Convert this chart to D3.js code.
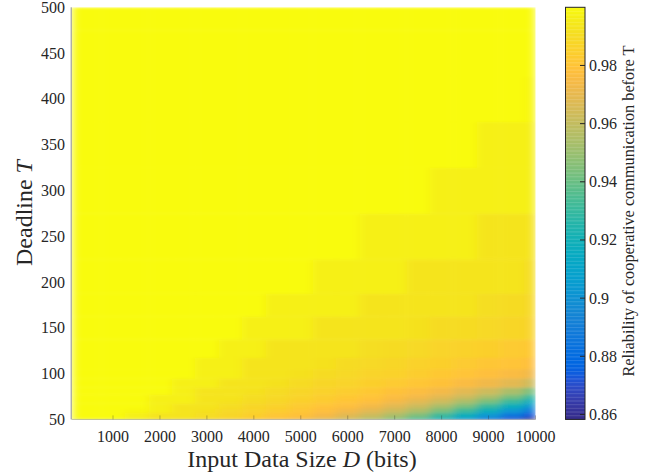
<!DOCTYPE html>
<html><head><meta charset="utf-8">
<script src="https://cdn.jsdelivr.net/npm/d3@7"></script>
<style>
body{margin:0;background:#fff}
svg{display:block}
text{font-family:"Liberation Serif","DejaVu Serif",serif;fill:#262626}
</style>
</head><body><svg id="c" width="655" height="476"></svg>
<script>
// ---- data ----
const D_VALUES = [500,1000,1500,2000,2500,3000,3500,4000,4500,5000,5500,6000,6500,7000,7500,8000,8500,9000,9500,10000];
const T_VALUES = [50,55,60,65,70,75,80,90,100,110,125,150,175,200,250,300,350,400,450,500];
const X_TICKS = [1000,2000,3000,4000,5000,6000,7000,8000,9000,10000];
const Y_TICKS = [50,100,150,200,250,300,350,400,450,500];
const C_TICKS = [0.86,0.88,0.9,0.92,0.94,0.96,0.98];
const C_RANGE = [0.8583,1.0];

const R_T50  = [1,1,0.997,0.993,0.992,0.989,0.986,0.982,0.979,0.975,0.969,0.963,0.955,0.945,0.933,0.920,0.905,0.886,0.872,0.860];
const R_T55  = [1,1,0.997,0.993,0.993,0.991,0.988,0.985,0.981,0.979,0.975,0.969,0.963,0.955,0.945,0.932,0.919,0.904,0.887,0.873];
const R_T60  = [1,1,0.999,0.997,0.993,0.992,0.989,0.987,0.984,0.981,0.978,0.974,0.969,0.963,0.955,0.944,0.932,0.919,0.903,0.887];
const R_T65  = [1,1,1,0.997,0.993,0.993,0.991,0.988,0.986,0.983,0.980,0.978,0.974,0.969,0.963,0.954,0.944,0.931,0.918,0.902];
const R_T70  = [1,1,1,0.997,0.997,0.993,0.992,0.990,0.988,0.985,0.983,0.980,0.978,0.974,0.969,0.963,0.954,0.943,0.931,0.917];
const R_T75  = [1,1,1,0.997,0.997,0.993,0.993,0.991,0.989,0.987,0.984,0.982,0.980,0.977,0.974,0.969,0.963,0.954,0.943,0.930];
const R_T80  = [1,1,1,1,0.997,0.993,0.993,0.992,0.990,0.988,0.986,0.984,0.982,0.979,0.977,0.974,0.969,0.963,0.954,0.943];
const R_T90  = [1,1,1,1,0.997,0.997,0.993,0.993,0.992,0.990,0.988,0.987,0.985,0.983,0.981,0.979,0.976,0.973,0.969,0.963];
const R_T100 = [1,1,1,1,1,0.997,0.997,0.993,0.993,0.992,0.990,0.989,0.987,0.986,0.984,0.982,0.980,0.978,0.976,0.973];
const R_T110 = [1,1,1,1,1,0.997,0.997,0.993,0.993,0.993,0.992,0.990,0.989,0.988,0.986,0.985,0.983,0.981,0.980,0.978];
const R_T125 = [1,1,1,1,1,1,0.997,0.997,0.993,0.993,0.993,0.993,0.991,0.990,0.989,0.987,0.986,0.985,0.983,0.982];
const R_T150 = [1,1,1,1,1,1,1,0.997,0.997,0.997,0.993,0.993,0.993,0.993,0.992,0.990,0.990,0.989,0.988,0.987];
const R_T175 = [1,1,1,1,1,1,1,1,0.997,0.997,0.997,0.997,0.993,0.993,0.993,0.993,0.993,0.991,0.990,0.989];
const R_T200 = [1,1,1,1,1,1,1,1,1,1,0.997,0.997,0.997,0.997,0.993,0.993,0.993,0.993,0.993,0.991];
const R_T250 = [1,1,1,1,1,1,1,1,1,1,1,1,0.997,0.997,0.997,0.997,0.997,0.993,0.993,0.993];
const R_T300 = [1,1,1,1,1,1,1,1,1,1,1,1,1,1,1,0.997,0.997,0.997,0.997,0.997];
const R_T350 = [1,1,1,1,1,1,1,1,1,1,1,1,1,1,1,1,1,0.997,0.997,0.997];
const R_T400 = [1,1,1,1,1,1,1,1,1,1,1,1,1,1,1,1,1,1,1,0.999];
const R_T450 = [1,1,1,1,1,1,1,1,1,1,1,1,1,1,1,1,1,1,1,1];
const R_T500 = [1,1,1,1,1,1,1,1,1,1,1,1,1,1,1,1,1,1,1,1];
const RELIABILITY = [R_T50,R_T55,R_T60,R_T65,R_T70,R_T75,R_T80,R_T90,R_T100,R_T110,R_T125,R_T150,R_T175,R_T200,R_T250,R_T300,R_T350,R_T400,R_T450,R_T500];

// parula colormap (64 entries)
const PARULA = [[0.2081,0.1663,0.5292],[0.2116,0.1898,0.5777],[0.2123,0.2138,0.6270],[0.2081,0.2386,0.6771],[0.1959,0.2645,0.7279],[0.1707,0.2919,0.7792],[0.1253,0.3242,0.8303],[0.0591,0.3598,0.8683],[0.0117,0.3875,0.8820],[0.0060,0.4086,0.8828],[0.0165,0.4266,0.8786],[0.0329,0.4430,0.8720],[0.0498,0.4586,0.8641],[0.0629,0.4737,0.8554],[0.0723,0.4887,0.8467],[0.0779,0.5040,0.8384],[0.0793,0.5200,0.8312],[0.0749,0.5375,0.8263],[0.0641,0.5570,0.8240],[0.0488,0.5772,0.8228],[0.0343,0.5966,0.8199],[0.0265,0.6137,0.8135],[0.0239,0.6287,0.8038],[0.0231,0.6418,0.7913],[0.0228,0.6535,0.7768],[0.0267,0.6642,0.7607],[0.0384,0.6743,0.7436],[0.0590,0.6838,0.7254],[0.0843,0.6928,0.7062],[0.1133,0.7015,0.6859],[0.1453,0.7098,0.6646],[0.1801,0.7177,0.6424],[0.2178,0.7250,0.6193],[0.2586,0.7317,0.5954],[0.3022,0.7376,0.5712],[0.3482,0.7424,0.5473],[0.3953,0.7459,0.5244],[0.4420,0.7481,0.5033],[0.4871,0.7491,0.4840],[0.5300,0.7491,0.4661],[0.5709,0.7485,0.4494],[0.6099,0.7473,0.4337],[0.6473,0.7456,0.4188],[0.6834,0.7435,0.4044],[0.7184,0.7411,0.3905],[0.7525,0.7384,0.3768],[0.7858,0.7356,0.3633],[0.8185,0.7327,0.3498],[0.8507,0.7299,0.3360],[0.8824,0.7274,0.3217],[0.9139,0.7258,0.3063],[0.9450,0.7261,0.2886],[0.9739,0.7314,0.2666],[0.9938,0.7455,0.2403],[0.9990,0.7653,0.2164],[0.9955,0.7861,0.1967],[0.9880,0.8066,0.1794],[0.9789,0.8271,0.1633],[0.9697,0.8481,0.1475],[0.9626,0.8705,0.1309],[0.9589,0.8949,0.1132],[0.9598,0.9218,0.0948],[0.9661,0.9514,0.0755],[0.9763,0.9831,0.0538]];
const parulaInterp = d3.piecewise(d3.interpolateRgb, PARULA.map(c => d3.rgb(c[0]*255, c[1]*255, c[2]*255)));
const color = d3.scaleSequential(parulaInterp).domain(C_RANGE).clamp(true);

const svg = d3.select("#c");
const L = 71.7, R = 535.5, TOP = 7.3, B = 419.4;
const x = d3.scaleLinear().domain([120, 10000]).range([L, R]);
const y = d3.scaleLinear().domain([50, 500]).range([B, TOP]);

const defs = svg.append("defs");
defs.append("clipPath").attr("id", "plotclip").append("rect")
  .attr("x", L).attr("y", TOP).attr("width", R - L).attr("height", B - TOP);
const flt = defs.append("filter").attr("id", "soft")
  .attr("filterUnits", "userSpaceOnUse")
  .attr("x", L).attr("y", TOP).attr("width", R - L).attr("height", B - TOP);
flt.append("feGaussianBlur").attr("stdDeviation", "5 1.5").attr("edgeMode", "duplicate");

function edges(vals, lo, hi) {
  return vals.map((v, i) => [
    i === 0 ? lo : (vals[i-1] + v) / 2,
    i === vals.length - 1 ? hi : (v + vals[i+1]) / 2
  ]);
}
const dE = edges(D_VALUES, 120, 10000);
const tE = edges(T_VALUES, 50, 500);

const cells = [];
RELIABILITY.forEach((row, ti) => row.forEach((v, di) => cells.push({ti, di, v})));

svg.append("g").attr("clip-path", "url(#plotclip)")
  .append("g").attr("filter", "url(#soft)")
  .selectAll("rect").data(cells).join("rect")
  .attr("x", d => x(dE[d.di][0]))
  .attr("width", d => x(dE[d.di][1]) - x(dE[d.di][0]) + 0.4)
  .attr("y", d => y(tE[d.ti][1]))
  .attr("height", d => y(tE[d.ti][0]) - y(tE[d.ti][1]) + 0.4)
  .attr("fill", d => color(d.v));

// axes lines
svg.append("line").attr("x1", L - 0.5).attr("x2", L - 0.5).attr("y1", TOP).attr("y2", B)
  .attr("stroke", "#8c8c8c").attr("stroke-width", 1);
svg.append("line").attr("x1", L).attr("x2", R).attr("y1", B).attr("y2", B)
  .attr("stroke", "#262626").attr("stroke-opacity", 0.3).attr("stroke-width", 1);
svg.append("g").selectAll("line").data(X_TICKS).join("line")
  .attr("x1", d => x(d)).attr("x2", d => x(d)).attr("y1", B).attr("y2", B - 4)
  .attr("stroke", "#262626").attr("stroke-opacity", 0.3);

// tick labels
svg.append("g").selectAll("text").data(X_TICKS).join("text")
  .attr("x", d => x(d)).attr("y", 442).attr("text-anchor", "middle")
  .attr("font-size", 16).text(d => d);
svg.append("g").selectAll("text").data(Y_TICKS).join("text")
  .attr("x", 65).attr("y", d => y(d) + 5.5).attr("text-anchor", "end")
  .attr("font-size", 16).text(d => d);

// axis titles
const xl = svg.append("text").attr("x", 302).attr("y", 467).attr("text-anchor", "middle").attr("font-size", 24);
xl.append("tspan").text("Input Data Size ");
xl.append("tspan").attr("font-style", "italic").text("D");
xl.append("tspan").text(" (bits)");
const yl = svg.append("text").attr("transform", "translate(32,213) rotate(-90)").attr("text-anchor", "middle").attr("font-size", 24);
yl.append("tspan").text("Deadline ");
yl.append("tspan").attr("font-style", "italic").text("T");

// colorbar
const CL = 565.5, CR = 585;
const cy = d3.scaleLinear().domain(C_RANGE).range([B, TOP]);
const steps = d3.range(0, 300).map(i => C_RANGE[0] + (C_RANGE[1] - C_RANGE[0]) * i / 300);
const dv = (C_RANGE[1] - C_RANGE[0]) / 300;
svg.append("g").selectAll("rect").data(steps).join("rect")
  .attr("x", CL).attr("width", CR - CL)
  .attr("y", d => cy(d + dv)).attr("height", d => cy(d) - cy(d + dv) + 0.3)
  .attr("fill", d => color(d + dv / 2));
svg.append("rect").attr("x", CL).attr("y", TOP).attr("width", CR - CL).attr("height", B - TOP)
  .attr("fill", "none").attr("stroke", "#262626").attr("stroke-width", 1);
svg.append("g").selectAll("line").data(C_TICKS).join("line")
  .attr("x1", CR - 5).attr("x2", CR).attr("y1", d => cy(d)).attr("y2", d => cy(d))
  .attr("stroke", "#262626");
svg.append("g").selectAll("text").data(C_TICKS).join("text")
  .attr("x", CR + 4).attr("y", d => cy(d) + 5.5).attr("font-size", 16)
  .text(d => d);
svg.append("text").attr("transform", "translate(634,211) rotate(-90)")
  .attr("text-anchor", "middle").attr("font-size", 16.3)
  .text("Reliability of cooperative communication before T");
</script></body></html>
